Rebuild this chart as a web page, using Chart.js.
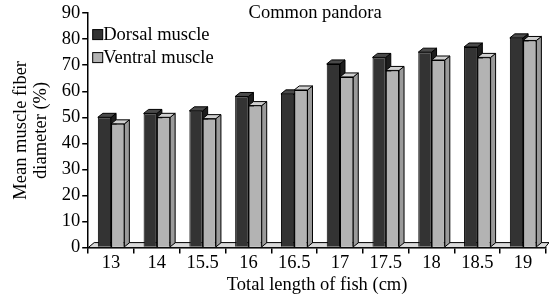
<!DOCTYPE html>
<html>
<head>
<meta charset="utf-8">
<script src="https://cdn.jsdelivr.net/npm/chart.js@4"></script>
<style>
  html, body { margin: 0; padding: 0; background: #fff; }
  #wrap { width: 549px; height: 301px; }
</style>
</head>
<body>
<div id="wrap"><canvas id="myChart"></canvas></div>
<script>
  const lengths = ["13", "14", "15.5", "16", "16.5", "17", "17.5", "18", "18.5", "19"];
  const dorsal = [50, 51.5, 52.5, 58, 59, 70.5, 73, 75, 77, 80.5];
  const ventral = [47.5, 50, 49.5, 54.5, 60.5, 65.5, 68, 72, 73, 79.5];
  const yTicks = [0, 10, 20, 30, 40, 50, 60, 70, 80, 90];

  const FONT = "'Liberation Serif', 'Times New Roman', serif";
  const FS = 18.5;
  const DX = 5, DY = 4;
  const faces = [
    { top: "#4a4a4a", side: "#1e1e1e" },
    { top: "#d0d0d0", side: "#9a9a9a" },
  ];

  // side + top faces go under the library's front faces
  const bars3d = {
    id: "bars3d",
    beforeDatasetsDraw(chart) {
      const c = chart.ctx;
      const a = chart.chartArea;
      c.save();
      c.lineWidth = 1;
      c.strokeStyle = "#000";
      // floor
      c.fillStyle = "#d9d9d9";
      c.beginPath();
      c.moveTo(a.left, a.bottom);
      c.lineTo(a.left + DX + 1, a.bottom - DY - 1);
      c.lineTo(a.right + 3, a.bottom - DY - 1);
      c.lineTo(a.right - 1, a.bottom);
      c.closePath();
      c.fill();
      c.stroke();
      chart.data.datasets.forEach((ds, i) => {
        const meta = chart.getDatasetMeta(i);
        meta.data.forEach((bar) => {
          const l = bar.x - bar.width / 2, r = bar.x + bar.width / 2;
          const t = bar.y, b = bar.base;
          c.fillStyle = faces[i].side;
          c.beginPath();
          c.moveTo(r, t);
          c.lineTo(r + DX, t - DY);
          c.lineTo(r + DX, b - DY);
          c.lineTo(r, b);
          c.closePath();
          c.fill();
          c.stroke();
          c.fillStyle = faces[i].top;
          c.beginPath();
          c.moveTo(l, t);
          c.lineTo(l + DX, t - DY);
          c.lineTo(r + DX, t - DY);
          c.lineTo(r, t);
          c.closePath();
          c.fill();
          c.stroke();
        });
      });
      c.restore();
    },
    afterDraw(chart) {
      const c = chart.ctx;
      const a = chart.chartArea;
      c.save();
      c.font = FS + "px " + FONT;
      c.fillStyle = "#000";
      c.textBaseline = "middle";
      c.textAlign = "center";
      c.fillText("Common pandora", (a.left + a.right) / 2 - 2, a.top + 0);
      // legend inside the plot
      c.textAlign = "left";
      chart.data.datasets.forEach((ds, i) => {
        const y = a.top + 22 + i * 23;
        c.fillStyle = ds.backgroundColor;
        c.fillRect(a.left + 4.5, y - 5.5, 10, 10);
        c.lineWidth = 1;
        c.strokeStyle = "#000";
        c.strokeRect(a.left + 4.5, y - 5.5, 10, 10);
        c.fillStyle = "#000";
        c.fillText(ds.label, a.left + 15, y);
      });
      c.restore();
    },
  };

  new Chart(document.getElementById("myChart"), {
    type: "bar",
    data: {
      labels: lengths,
      datasets: [
        {
          label: "Dorsal muscle",
          data: dorsal,
          backgroundColor: "#333333",
          borderColor: "#000",
          borderWidth: 1,
        },
        {
          label: "Ventral muscle",
          data: ventral,
          backgroundColor: "#b3b3b3",
          borderColor: "#000",
          borderWidth: 1,
        },
      ],
    },
    options: {
      responsive: true,
      maintainAspectRatio: false,
      animation: false,
      layout: { padding: { left: 11, right: 3, top: 9, bottom: 5 } },
      datasets: {
        bar: { categoryPercentage: 0.58, barPercentage: 1 },
      },
      plugins: {
        legend: { display: false },
        tooltip: { enabled: false },
      },
      scales: {
        x: {
          grid: {
            offset: true,
            drawOnChartArea: false,
            drawTicks: true,
            tickLength: 6,
            color: "#000",
            lineWidth: 1.5,
          },
          border: { color: "#000", width: 1.5 },
          ticks: {
            color: "#000",
            font: { family: FONT, size: FS },
            padding: -2,
            maxRotation: 0,
            autoSkip: false,
          },
          title: {
            display: true,
            text: "Total length of fish (cm)",
            color: "#000",
            font: { family: FONT, size: FS },
            padding: { top: 2, bottom: 0 },
          },
        },
        y: {
          min: 0,
          max: 90,
          afterBuildTicks(axis) {
            axis.ticks = yTicks.map((v) => ({ value: v }));
          },
          grid: {
            drawOnChartArea: false,
            drawTicks: true,
            tickLength: 6,
            color: "#000",
            lineWidth: 1.5,
          },
          border: { color: "#000", width: 1.5 },
          ticks: {
            color: "#000",
            font: { family: FONT, size: FS },
            padding: 2,
          },
          title: {
            display: true,
            text: ["Mean muscle fiber", "diameter (%)"],
            color: "#000",
            font: { family: FONT, size: FS, lineHeight: 1.1 },
            padding: { top: 0, bottom: 8 },
          },
        },
      },
    },
    plugins: [bars3d],
  });
</script>
</body>
</html>
